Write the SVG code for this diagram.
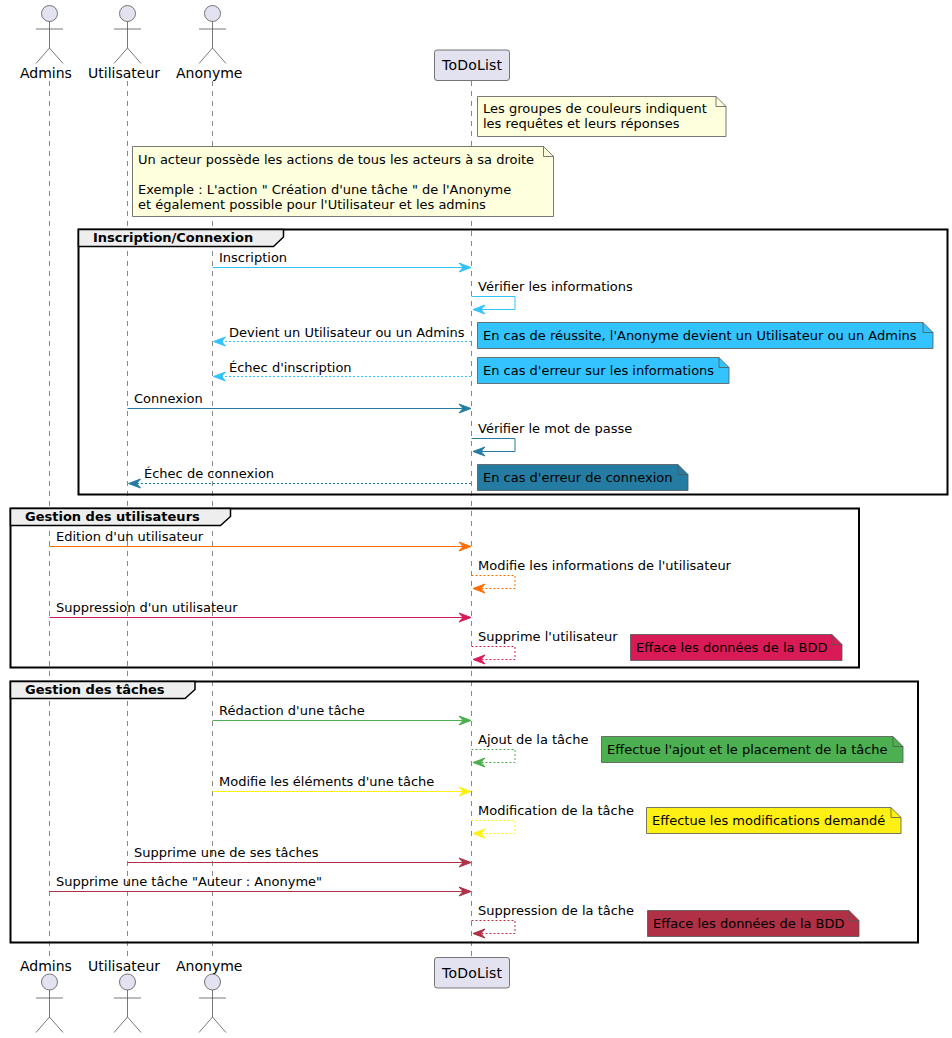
<svg xmlns="http://www.w3.org/2000/svg" width="952" height="1038" viewBox="0 0 952 1038">
<style>
text{font-family:"DejaVu Sans",sans-serif;font-size:13px;fill:#000}
.p{font-size:14px}
.b{font-weight:bold}
.life{stroke:#555;stroke-width:.7;stroke-dasharray:5 5;fill:none}
.actor circle{fill:#E2E2F0;stroke:#555;stroke-width:.8}
.actor path{fill:none;stroke:#555;stroke-width:.8}
.box{fill:#E2E2F0;stroke:#555;stroke-width:.8}
.note{stroke:#555;stroke-width:.8}
.nf{fill:none;stroke:#555;stroke-width:.8}
.frame{fill:none;stroke:#000;stroke-width:2}
.tab{fill:#EEE;stroke:#000;stroke-width:1.5}
.m{fill:none;stroke-width:1}
.d{stroke-dasharray:2 2}
</style>
<g id="lifelines">
<path class="life" d="M49.5 81V957M127.5 81V957M212.5 81V957M471.5 81V957"/>
</g>
<g id="actor-admins" class="actor"><circle cx="49.5" cy="13.5" r="8"/><path d="M49.5 21.5V48M36 29H63M36 63.5L49.5 48L63 63.5"/><text class="p" x="20" y="78">Admins</text></g>
<g id="actor-utilisateur" class="actor"><circle cx="127.5" cy="13.5" r="8"/><path d="M127.5 21.5V48M114 29H141M114 63.5L127.5 48L141 63.5"/><text class="p" x="88" y="78">Utilisateur</text></g>
<g id="actor-anonyme" class="actor"><circle cx="212.5" cy="13.5" r="8"/><path d="M212.5 21.5V48M199 29H226M199 63.5L212.5 48L226 63.5"/><text class="p" x="176" y="78">Anonyme</text></g>
<g id="participant-todolist"><rect class="box" x="434.5" y="50" width="75" height="30.5" rx="2.5"/><text class="p" x="442" y="70" textLength="60">ToDoList</text></g>
<g id="note-groupes"><path class="note" fill="#FEFFDD" d="M477.5 96.5H716L726 106.5V136.5H477.5Z"/><path class="nf" d="M716 96.5V106.5H726"/><text x="483" y="113">Les groupes de couleurs indiquent</text><text x="483" y="128">les requêtes et leurs réponses</text></g>
<g id="note-acteur"><path class="note" fill="#FEFFDD" d="M132.5 146.5H543.5L553.5 156.5V216.5H132.5Z"/><path class="nf" d="M543.5 146.5V156.5H553.5"/><text x="138" y="164">Un acteur possède les actions de tous les acteurs à sa droite</text><text x="138" y="194">Exemple : L'action " Création d'une tâche " de l'Anonyme</text><text x="138" y="209">et également possible pour l'Utilisateur et les admins</text></g>
<g id="group-inscription"><rect class="frame" x="78.5" y="229.5" width="869" height="265"/><path class="tab" d="M78.5 229.5H283.5V237L273.5 246.5H78.5Z"/><text class="b" x="93" y="242">Inscription/Connexion</text></g>
<g id="group-utilisateurs"><rect class="frame" x="10.5" y="508.5" width="848.5" height="159"/><path class="tab" d="M10.5 508.5H230.5V516.5L220.5 525.5H10.5Z"/><text class="b" x="25" y="521">Gestion des utilisateurs</text></g>
<g id="group-taches"><rect class="frame" x="10.5" y="681.5" width="907.5" height="261"/><path class="tab" d="M10.5 681.5H195V689.5L185 698.5H10.5Z"/><text class="b" x="25" y="694">Gestion des tâches</text></g>
<g id="notes">
<g id="note-reussite"><path class="note" fill="#33C3FF" d="M477.5 322.5H923L933 332.5V348.5H477.5Z"/><path class="nf" d="M923 322.5V332.5H933"/><text x="483" y="340">En cas de réussite, l'Anonyme devient un Utilisateur ou un Admins</text></g>
<g id="note-erreur-info"><path class="note" fill="#33C3FF" d="M477.5 357.5H719L729 367.5V383.5H477.5Z"/><path class="nf" d="M719 357.5V367.5H729"/><text x="483" y="375">En cas d'erreur sur les informations</text></g>
<g id="note-erreur-conn"><path class="note" fill="#247CA3" d="M477.5 464.5H678L688 474.5V490.5H477.5Z"/><path class="nf" d="M678 464.5V474.5H688"/><text x="483" y="482">En cas d'erreur de connexion</text></g>
<g id="note-efface1"><path class="note" fill="#D81B56" d="M630.5 634.5H832L842 644.5V660.5H630.5Z"/><path class="nf" d="M832 634.5V644.5H842"/><text x="636" y="652">Efface les données de la BDD</text></g>
<g id="note-ajout"><path class="note" fill="#4CAF50" d="M601.5 736.5H893L903 746.5V762.5H601.5Z"/><path class="nf" d="M893 736.5V746.5H903"/><text x="607" y="754">Effectue l'ajout et le placement de la tâche</text></g>
<g id="note-modif"><path class="note" fill="#FFF014" d="M646.5 807.5H891L901 817.5V833.5H646.5Z"/><path class="nf" d="M891 807.5V817.5H901"/><text x="652" y="825">Effectue les modifications demandé</text></g>
<g id="note-efface2"><path class="note" fill="#B03045" d="M647.5 910.5H849L859 920.5V936.5H647.5Z"/><path class="nf" d="M849 910.5V920.5H859"/><text x="653" y="928">Efface les données de la BDD</text></g>
</g>
<g id="connectors">
<g stroke="#33C3FF" fill="#33C3FF"><path class="m" d="M212.5 267.5H470"/><path d="M471 267.5L459 263L463 267.5L459 272Z"/>
<path class="m" d="M471.5 296.5H515V309.5H474"/><path d="M473 309.5L485 305L481 309.5L485 314Z"/>
<path class="m d" d="M471 341.5H215"/><path d="M213.5 341.5L225.5 337L221.5 341.5L225.5 346Z"/>
<path class="m d" d="M471 376.5H215"/><path d="M213.5 376.5L225.5 372L221.5 376.5L225.5 381Z"/></g>
<g stroke="#247CA3" fill="#247CA3"><path class="m" d="M127.5 408.5H470"/><path d="M471 408.5L459 404L463 408.5L459 413Z"/>
<path class="m" d="M471.5 438.5H515V451.5H474"/><path d="M473 451.5L485 447L481 451.5L485 456Z"/>
<path class="m d" d="M471 483.5H130"/><path d="M128.5 483.5L140.5 479L136.5 483.5L140.5 488Z"/></g>
<g stroke="#FF6F00" fill="#FF6F00"><path class="m" d="M49.5 546.5H470"/><path d="M471 546.5L459 542L463 546.5L459 551Z"/>
<path class="m d" d="M471.5 575.5H515V588.5H474"/><path d="M473 588.5L485 584L481 588.5L485 593Z"/></g>
<g stroke="#D81B56" fill="#D81B56"><path class="m" d="M49.5 617.5H470"/><path d="M471 617.5L459 613L463 617.5L459 622Z"/>
<path class="m d" d="M471.5 646.5H515V659.5H474"/><path d="M473 659.5L485 655L481 659.5L485 664Z"/></g>
<g stroke="#4CAF50" fill="#4CAF50"><path class="m" d="M212.5 720.5H470"/><path d="M471 720.5L459 716L463 720.5L459 725Z"/>
<path class="m d" d="M471.5 749.5H515V762.5H474"/><path d="M473 762.5L485 758L481 762.5L485 767Z"/></g>
<g stroke="#FFF014" fill="#FFF014"><path class="m" d="M212.5 791.5H470"/><path d="M471 791.5L459 787L463 791.5L459 796Z"/>
<path class="m d" d="M471.5 820.5H515V833.5H474"/><path d="M473 833.5L485 829L481 833.5L485 838Z"/></g>
<g stroke="#B03045" fill="#B03045"><path class="m" d="M127.5 862.5H470"/><path d="M471 862.5L459 858L463 862.5L459 867Z"/>
<path class="m" d="M49.5 891.5H470"/><path d="M471 891.5L459 887L463 891.5L459 896Z"/>
<path class="m d" d="M471.5 920.5H515V933.5H474"/><path d="M473 933.5L485 929L481 933.5L485 938Z"/></g>
</g>
<g id="labels">
<text x="219" y="262">Inscription</text>
<text x="478" y="291">Vérifier les informations</text>
<text x="229" y="337">Devient un Utilisateur ou un Admins</text>
<text x="229" y="372">Échec d'inscription</text>
<text x="134" y="403">Connexion</text>
<text x="478" y="433">Vérifier le mot de passe</text>
<text x="144" y="478">Échec de connexion</text>
<text x="56" y="541">Edition d'un utilisateur</text>
<text x="478" y="570">Modifie les informations de l'utilisateur</text>
<text x="56" y="612">Suppression d'un utilisateur</text>
<text x="478" y="641">Supprime l'utilisateur</text>
<text x="219" y="715">Rédaction d'une tâche</text>
<text x="478" y="744">Ajout de la tâche</text>
<text x="219" y="786">Modifie les éléments d'une tâche</text>
<text x="478" y="815">Modification de la tâche</text>
<text x="134" y="857">Supprime une de ses tâches</text>
<text x="56" y="886">Supprime une tâche "Auteur : Anonyme"</text>
<text x="478" y="915">Suppression de la tâche</text>
</g>
<g id="actor-admins-bottom" class="actor"><text class="p" x="20" y="971">Admins</text><circle cx="49.5" cy="982" r="8"/><path d="M49.5 990V1017M36 998H63M36 1032.5L49.5 1017L63 1032.5"/></g>
<g id="actor-utilisateur-bottom" class="actor"><text class="p" x="88" y="971">Utilisateur</text><circle cx="127.5" cy="982" r="8"/><path d="M127.5 990V1017M114 998H141M114 1032.5L127.5 1017L141 1032.5"/></g>
<g id="actor-anonyme-bottom" class="actor"><text class="p" x="176" y="971">Anonyme</text><circle cx="212.5" cy="982" r="8"/><path d="M212.5 990V1017M199 998H226M199 1032.5L212.5 1017L226 1032.5"/></g>
<g id="participant-todolist-bottom"><rect class="box" x="434.5" y="957.5" width="75" height="30.5" rx="2.5"/><text class="p" x="442" y="978" textLength="60">ToDoList</text></g>
</svg>
